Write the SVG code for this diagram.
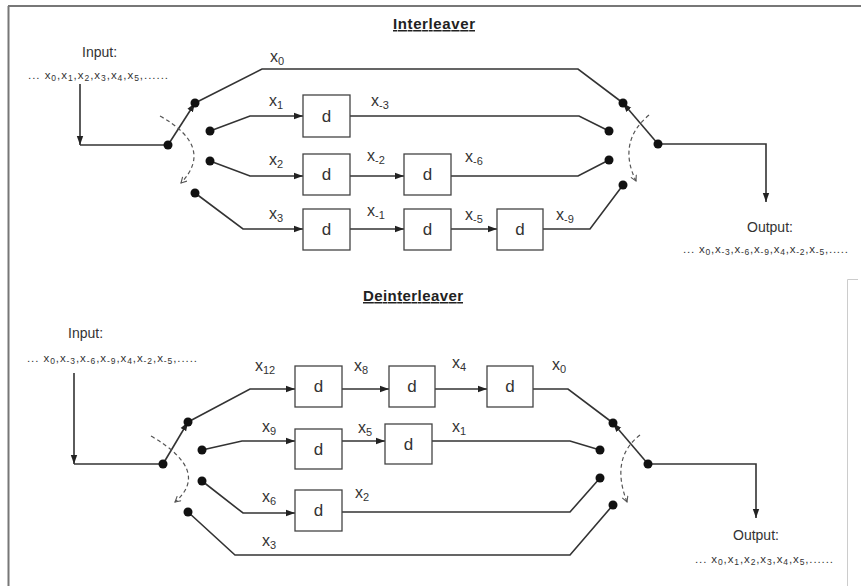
<svg xmlns="http://www.w3.org/2000/svg" width="861" height="586" viewBox="0 0 861 586">
<defs>
<style>
.ln{fill:none;stroke:#333;stroke-width:1.6}
.da{fill:none;stroke:#555;stroke-width:1.2;stroke-dasharray:4 3}
.bx{fill:#fff;stroke:#444;stroke-width:1.3}
.dt{fill:#111}
.t{font-family:"Liberation Sans",Arial,sans-serif;fill:#333}
.lb{font-size:16px}
.s{font-size:11px}
.d{font-size:17px;text-anchor:middle}
.sq{font-size:11.5px}
.ss{font-size:8.5px}
.io{font-size:14px}
.ti{font-family:"Liberation Sans",Arial,sans-serif;font-weight:bold;font-size:15px;fill:#222;text-decoration:underline}
.bd{fill:none;stroke:#777;stroke-width:2}
.bl{fill:none;stroke:#ccc;stroke-width:1}
</style>
<marker id="ah" markerWidth="9" markerHeight="8" refX="9" refY="4" orient="auto" markerUnits="userSpaceOnUse"><path d="M0,0.8 L9,4 L0,7.2z" fill="#222"/></marker>
<marker id="oa" markerWidth="8" markerHeight="8" refX="6" refY="3.5" orient="auto" markerUnits="userSpaceOnUse"><path d="M0.5,0.5 L6,3.5 L0.5,6.5" fill="none" stroke="#555" stroke-width="1.1"/></marker>
</defs>

<g id="frame">
<path class="bd" d="M8,6 H861 M8.5,6 V586"/>
<path class="bl" d="M847.5,279.5 H858 M847.5,279.5 V586"/>
</g>

<g id="titles">
<text class="ti" x="393" y="29" textLength="82">Interleaver</text>
<text class="ti" x="363" y="301" textLength="100">Deinterleaver</text>
</g>

<g id="io-text">
<text class="t io" x="82" y="57">Input:</text>
<text class="t sq" x="28" y="79" textLength="140" lengthAdjust="spacing">... x<tspan class="ss" dy="2">0</tspan><tspan dy="-2">,x</tspan><tspan class="ss" dy="2">1</tspan><tspan dy="-2">,x</tspan><tspan class="ss" dy="2">2</tspan><tspan dy="-2">,x</tspan><tspan class="ss" dy="2">3</tspan><tspan dy="-2">,x</tspan><tspan class="ss" dy="2">4</tspan><tspan dy="-2">,x</tspan><tspan class="ss" dy="2">5</tspan><tspan dy="-2">,......</tspan></text>
<text class="t io" x="747" y="232">Output:</text>
<text class="t sq" x="683" y="253" textLength="165" lengthAdjust="spacing">... x<tspan class="ss" dy="2">0</tspan><tspan dy="-2">,x</tspan><tspan class="ss" dy="2">-3</tspan><tspan dy="-2">,x</tspan><tspan class="ss" dy="2">-6</tspan><tspan dy="-2">,x</tspan><tspan class="ss" dy="2">-9</tspan><tspan dy="-2">,x</tspan><tspan class="ss" dy="2">4</tspan><tspan dy="-2">,x</tspan><tspan class="ss" dy="2">-2</tspan><tspan dy="-2">,x</tspan><tspan class="ss" dy="2">-5</tspan><tspan dy="-2">,.....</tspan></text>
<text class="t io" x="68" y="338">Input:</text>
<text class="t sq" x="27" y="362" textLength="170" lengthAdjust="spacing">... x<tspan class="ss" dy="2">0</tspan><tspan dy="-2">,x</tspan><tspan class="ss" dy="2">-3</tspan><tspan dy="-2">,x</tspan><tspan class="ss" dy="2">-6</tspan><tspan dy="-2">,x</tspan><tspan class="ss" dy="2">-9</tspan><tspan dy="-2">,x</tspan><tspan class="ss" dy="2">4</tspan><tspan dy="-2">,x</tspan><tspan class="ss" dy="2">-2</tspan><tspan dy="-2">,x</tspan><tspan class="ss" dy="2">-5</tspan><tspan dy="-2">,.....</tspan></text>
<text class="t io" x="733" y="540">Output:</text>
<text class="t sq" x="695" y="563" textLength="138" lengthAdjust="spacing">... x<tspan class="ss" dy="2">0</tspan><tspan dy="-2">,x</tspan><tspan class="ss" dy="2">1</tspan><tspan dy="-2">,x</tspan><tspan class="ss" dy="2">2</tspan><tspan dy="-2">,x</tspan><tspan class="ss" dy="2">3</tspan><tspan dy="-2">,x</tspan><tspan class="ss" dy="2">4</tspan><tspan dy="-2">,x</tspan><tspan class="ss" dy="2">5</tspan><tspan dy="-2">,......</tspan></text>
</g>

<g id="connectors">
<path class="ln" d="M80,84 V145" marker-end="url(#ah)"/>
<path class="ln" d="M80,145 H168"/>
<path class="ln" d="M168,145 L195,103" marker-end="url(#ah)"/>
<path class="ln" d="M195,103 L262,69 H578 L623,103"/>
<path class="ln" d="M658,144 L623,103" marker-end="url(#ah)"/>
<path class="ln" d="M210,131 L250,116 H303" marker-end="url(#ah)"/>
<path class="ln" d="M350,116 H579 L609,131"/>
<path class="ln" d="M210,161 L250,176 H303" marker-end="url(#ah)"/>
<path class="ln" d="M350,176 H404" marker-end="url(#ah)"/>
<path class="ln" d="M451,176 H578 L609,160"/>
<path class="ln" d="M195,193 L243,229 H303" marker-end="url(#ah)"/>
<path class="ln" d="M350,229 H404" marker-end="url(#ah)"/>
<path class="ln" d="M451,229 H497" marker-end="url(#ah)"/>
<path class="ln" d="M543,229 H590 L623,185"/>
<path class="ln" d="M658,144 H766 V202" marker-end="url(#ah)"/>
<path class="da" d="M160,116 Q215,147 181,183" marker-end="url(#oa)"/>
<path class="da" d="M649,115 Q617,142 636,181" marker-end="url(#oa)"/>
<path class="ln" d="M74,373 V464" marker-end="url(#ah)"/>
<path class="ln" d="M74,464 H163"/>
<path class="ln" d="M163,464 L188,422" marker-end="url(#ah)"/>
<path class="ln" d="M188,422 L250,389 H295" marker-end="url(#ah)"/>
<path class="ln" d="M342,389 H389" marker-end="url(#ah)"/>
<path class="ln" d="M435,389 H487" marker-end="url(#ah)"/>
<path class="ln" d="M533,389 H568 L613,423"/>
<path class="ln" d="M648,464 L613,423" marker-end="url(#ah)"/>
<path class="ln" d="M202,450 L242,441 H295" marker-end="url(#ah)"/>
<path class="ln" d="M342,441 H385" marker-end="url(#ah)"/>
<path class="ln" d="M432,441 H570 L600,450"/>
<path class="ln" d="M202,481 L243,513 H295" marker-end="url(#ah)"/>
<path class="ln" d="M342,512 H570 L600,478"/>
<path class="ln" d="M188,512 L235,555 H570 L613,505"/>
<path class="ln" d="M648,464 H756 V518" marker-end="url(#ah)"/>
<path class="da" d="M151,436 Q211,471 175,502" marker-end="url(#oa)"/>
<path class="da" d="M640,435 Q610,458 627,502" marker-end="url(#oa)"/>
</g>

<g id="dots">
<circle class="dt" cx="168" cy="145" r="4.5"/>
<circle class="dt" cx="195" cy="103" r="4.5"/>
<circle class="dt" cx="210" cy="131" r="4.5"/>
<circle class="dt" cx="210" cy="161" r="4.5"/>
<circle class="dt" cx="195" cy="193" r="4.5"/>
<circle class="dt" cx="623" cy="103" r="4.5"/>
<circle class="dt" cx="609" cy="131" r="4.5"/>
<circle class="dt" cx="609" cy="160" r="4.5"/>
<circle class="dt" cx="623" cy="185" r="4.5"/>
<circle class="dt" cx="658" cy="144" r="4.5"/>
<circle class="dt" cx="163" cy="464" r="4.5"/>
<circle class="dt" cx="188" cy="422" r="4.5"/>
<circle class="dt" cx="202" cy="450" r="4.5"/>
<circle class="dt" cx="202" cy="481" r="4.5"/>
<circle class="dt" cx="188" cy="512" r="4.5"/>
<circle class="dt" cx="613" cy="423" r="4.5"/>
<circle class="dt" cx="600" cy="450" r="4.5"/>
<circle class="dt" cx="600" cy="478" r="4.5"/>
<circle class="dt" cx="613" cy="505" r="4.5"/>
<circle class="dt" cx="648" cy="464" r="4.5"/>
</g>

<g id="i-d1"><rect class="bx" x="303" y="95" width="47" height="42"/><text class="t d" x="326.5" y="122">d</text></g>
<g id="i-d2"><rect class="bx" x="303" y="154" width="47" height="41"/><text class="t d" x="326.5" y="180">d</text></g>
<g id="i-d3"><rect class="bx" x="404" y="154" width="47" height="41"/><text class="t d" x="427.5" y="180">d</text></g>
<g id="i-d4"><rect class="bx" x="303" y="209" width="47" height="41"/><text class="t d" x="326.5" y="235">d</text></g>
<g id="i-d5"><rect class="bx" x="404" y="209" width="47" height="41"/><text class="t d" x="427.5" y="235">d</text></g>
<g id="i-d6"><rect class="bx" x="497" y="209" width="46" height="41"/><text class="t d" x="520" y="235">d</text></g>

<g id="d-d1"><rect class="bx" x="295" y="366" width="47" height="41"/><text class="t d" x="318.5" y="392">d</text></g>
<g id="d-d2"><rect class="bx" x="389" y="366" width="46" height="41"/><text class="t d" x="412" y="392">d</text></g>
<g id="d-d3"><rect class="bx" x="487" y="366" width="46" height="41"/><text class="t d" x="510" y="392">d</text></g>
<g id="d-d4"><rect class="bx" x="295" y="429" width="47" height="40"/><text class="t d" x="318.5" y="455">d</text></g>
<g id="d-d5"><rect class="bx" x="385" y="424" width="47" height="40"/><text class="t d" x="408.5" y="450">d</text></g>
<g id="d-d6"><rect class="bx" x="295" y="490" width="47" height="41"/><text class="t d" x="318.5" y="516">d</text></g>

<g id="labels">
<text class="t lb" x="270" y="62">x<tspan class="s" dy="3">0</tspan></text>
<text class="t lb" x="269" y="106">x<tspan class="s" dy="3">1</tspan></text>
<text class="t lb" x="371" y="106">x<tspan class="s" dy="3">-3</tspan></text>
<text class="t lb" x="269" y="165">x<tspan class="s" dy="3">2</tspan></text>
<text class="t lb" x="367" y="161">x<tspan class="s" dy="3">-2</tspan></text>
<text class="t lb" x="465" y="162">x<tspan class="s" dy="3">-6</tspan></text>
<text class="t lb" x="269" y="219">x<tspan class="s" dy="3">3</tspan></text>
<text class="t lb" x="367" y="216">x<tspan class="s" dy="3">-1</tspan></text>
<text class="t lb" x="465" y="220">x<tspan class="s" dy="3">-5</tspan></text>
<text class="t lb" x="556" y="220">x<tspan class="s" dy="3">-9</tspan></text>
<text class="t lb" x="255" y="371">x<tspan class="s" dy="3">12</tspan></text>
<text class="t lb" x="354" y="371">x<tspan class="s" dy="3">8</tspan></text>
<text class="t lb" x="452" y="368">x<tspan class="s" dy="3">4</tspan></text>
<text class="t lb" x="552" y="370">x<tspan class="s" dy="3">0</tspan></text>
<text class="t lb" x="262" y="432">x<tspan class="s" dy="3">9</tspan></text>
<text class="t lb" x="358" y="433">x<tspan class="s" dy="3">5</tspan></text>
<text class="t lb" x="452" y="432">x<tspan class="s" dy="3">1</tspan></text>
<text class="t lb" x="262" y="502">x<tspan class="s" dy="3">6</tspan></text>
<text class="t lb" x="355" y="498">x<tspan class="s" dy="3">2</tspan></text>
<text class="t lb" x="262" y="546">x<tspan class="s" dy="3">3</tspan></text>
</g>
</svg>
